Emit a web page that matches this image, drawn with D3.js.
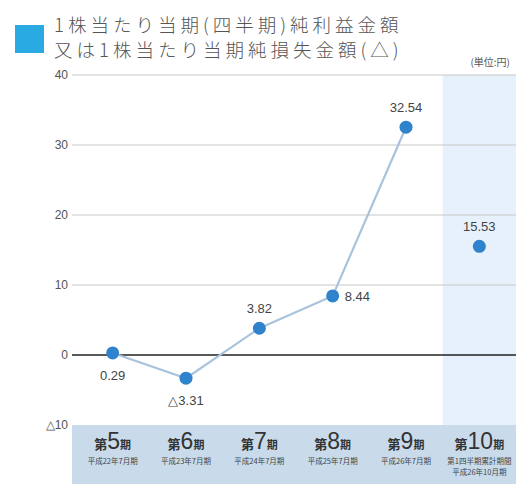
<!DOCTYPE html>
<html>
<head>
<meta charset="utf-8">
<script src="https://cdn.jsdelivr.net/npm/d3@7"></script>
<style>
  html, body { margin: 0; padding: 0; background: #fff; }
  svg { display: block; font-family: "Noto Sans CJK JP", "Noto Sans", sans-serif; }
</style>
</head>
<body>
<svg id="chart" width="516" height="484"></svg>
<script>
// Earnings per share by fiscal period (yen); negative values are net losses
const periods = ["第5期", "第6期", "第7期", "第8期", "第9期", "第10期"];
const periodNums = ["5", "6", "7", "8", "9", "10"];
const periodNotes = [
  ["平成22年7月期"],
  ["平成23年7月期"],
  ["平成24年7月期"],
  ["平成25年7月期"],
  ["平成26年7月期"],
  ["第1四半期累計期間", "平成26年10月期"]
];
const eps = [0.29, -3.31, 3.82, 8.44, 32.54, 15.53];
const yTicks = [-10, 0, 10, 20, 30, 40];
const titleLines = ["1株当たり当期(四半期)純利益金額", "又は1株当たり当期純損失金額(△)"];

const svg = d3.select("#chart");
const W = 516, H = 484;

const x = d3.scaleBand().domain(periods).range([76, 516]);
const y = d3.scaleLinear().domain([-10, 40]).range([425, 75]);

const fmtTick = v => v < 0 ? "△" + Math.abs(v) : String(v);
const fmtVal = v => v < 0 ? "△" + Math.abs(v).toFixed(2) : v.toFixed(2);

// Quarter-period column highlight
const last = periods[periods.length - 1];
svg.append("rect")
  .attr("x", x(last)).attr("y", y(40))
  .attr("width", W - x(last)).attr("height", y(-10) - y(40))
  .attr("fill", "#e7f1fb");

// Category band along the bottom
svg.append("rect")
  .attr("x", 72).attr("y", y(-10))
  .attr("width", W - 72).attr("height", H - y(-10))
  .attr("fill", "#c9dbeb");

// Y axis: gridlines and labels
const yAxis = d3.axisLeft(y).tickValues(yTicks).tickFormat(fmtTick).tickSize(0).tickPadding(0);
const gy = svg.append("g").attr("transform", "translate(68,0)").call(yAxis);
gy.select(".domain").remove();
gy.selectAll("text")
  .attr("fill", "#555").attr("font-size", 12)
  .attr("font-family", "'Liberation Sans', Arial, sans-serif");

svg.append("g").selectAll("line")
  .data(yTicks.filter(v => v > -10))
  .join("line")
  .attr("x1", 72).attr("x2", W)
  .attr("y1", d => y(d)).attr("y2", d => y(d))
  .attr("stroke", d => d === 0 ? "#222" : "#c8c8c8")
  .attr("stroke-width", d => d === 0 ? 1.6 : 1.2);

// Title with legend swatch
svg.append("rect")
  .attr("x", 15).attr("y", 25).attr("width", 29).attr("height", 28)
  .attr("fill", "#2aaae2");
svg.append("g").selectAll("text")
  .data(titleLines)
  .join("text")
  .attr("x", 54).attr("y", (d, i) => 32 + i * 25)
  .attr("fill", "#555").attr("font-size", 18.5)
  .attr("font-weight", 300)
  .attr("letter-spacing", 4)
  .text(d => d);

svg.append("text")
  .attr("x", 510).attr("y", 66).attr("text-anchor", "end")
  .attr("fill", "#555").attr("font-size", 10)
  .text("(単位:円)");

// Line connecting the annual periods
const cx = d => x(d) + x.bandwidth() / 2;
const annual = periods.slice(0, 5).map((p, i) => ({ p, v: eps[i] }));
const line = d3.line().x(d => cx(d.p)).y(d => y(d.v));
svg.append("path")
  .datum(annual)
  .attr("d", line)
  .attr("fill", "none")
  .attr("stroke", "#a9c3dd")
  .attr("stroke-width", 2.2);

// Points
const pts = periods.map((p, i) => ({ p, v: eps[i], i }));
svg.append("g").selectAll("circle")
  .data(pts)
  .join("circle")
  .attr("cx", d => cx(d.p)).attr("cy", d => y(d.v))
  .attr("r", 6.5)
  .attr("fill", "#2f82cc");

// Value labels
const labelPos = [
  { dx: 0, dy: 27, anchor: "middle" },
  { dx: 0, dy: 27, anchor: "middle" },
  { dx: 0, dy: -15, anchor: "middle" },
  { dx: 12, dy: 5, anchor: "start" },
  { dx: 0, dy: -15, anchor: "middle" },
  { dx: 0, dy: -15, anchor: "middle" }
];
svg.append("g").selectAll("text")
  .data(pts)
  .join("text")
  .attr("x", d => cx(d.p) + labelPos[d.i].dx)
  .attr("y", d => y(d.v) + labelPos[d.i].dy)
  .attr("text-anchor", d => labelPos[d.i].anchor)
  .attr("fill", "#444").attr("font-size", 13)
  .attr("font-family", "'Liberation Sans', Arial, sans-serif")
  .text(d => fmtVal(d.v));

// Category labels in the bottom band
const cat = svg.append("g").selectAll("g")
  .data(periods.map((p, i) => ({ p, i })))
  .join("g")
  .attr("transform", d => `translate(${cx(d.p)},0)`);

const main = cat.append("text")
  .attr("y", 449).attr("text-anchor", "middle")
  .attr("fill", "#333");
main.append("tspan").attr("font-size", 13).attr("font-weight", "bold").text("第");
main.append("tspan").attr("font-size", 23)
  .attr("font-family", "'Liberation Sans', Arial, sans-serif")
  .text(d => periodNums[d.i]);
main.append("tspan").attr("font-size", 11).attr("font-weight", "bold").text("期");

cat.each(function(d) {
  const g = d3.select(this);
  periodNotes[d.i].forEach((t, k) => {
    g.append("text")
      .attr("y", 464 + k * 11)
      .attr("text-anchor", "middle")
      .attr("fill", "#444").attr("font-size", 7.5)
      .text(t);
  });
});
</script>
</body>
</html>
